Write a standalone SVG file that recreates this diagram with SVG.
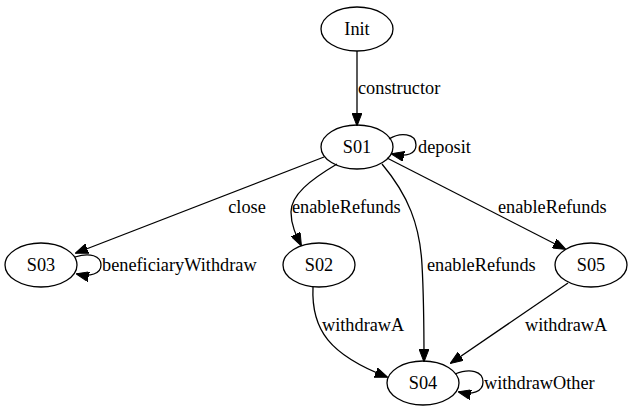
<svg xmlns="http://www.w3.org/2000/svg" width="635" height="413" viewBox="0 0 635 413">
<style>
.n ellipse{fill:none;stroke:#000;stroke-width:1.3}
text{font-family:"Liberation Serif","Times New Roman",serif;font-size:18.3px;fill:#000}
.n text{text-anchor:middle}
.e path{fill:none;stroke:#000;stroke-width:1.3;marker-end:url(#ah)}
</style>
<defs>
<marker id="ah" viewBox="0 0 13 10" refX="12" refY="5" markerWidth="13" markerHeight="10" markerUnits="userSpaceOnUse" orient="auto">
<path d="M0,0 L13,5 L0,10 z" fill="#000" stroke="#000" stroke-width="1"/>
</marker>
</defs>
<rect width="635" height="413" fill="#fff"/>
<g id="edges" class="e">
<path d="M357,51 L357,125"/>
<text x="358" y="94">constructor</text>
<path d="M389,139 C400,132 416,133 416,145 C416,154 407,157 392,154"/>
<text x="418" y="153">deposit</text>
<path d="M324,157 L76,253"/>
<text x="247" y="213" text-anchor="middle">close</text>
<path d="M337,164 C310,180 291,195 291,212 C291,225 296,235 301,245"/>
<text x="292" y="213">enableRefunds</text>
<path d="M382,164 C408,195 420,225 422,265 C424,300 424,335 424,361"/>
<text x="427" y="271">enableRefunds</text>
<path d="M387,158 L565,249"/>
<text x="498" y="213">enableRefunds</text>
<path d="M313,287 C311,330 330,355 387,377"/>
<text x="322" y="331">withdrawA</text>
<path d="M568,283 L451,363"/>
<text x="525" y="331">withdrawA</text>
<path d="M455,374 C470,368 483,371 483,382 C483,392 472,395 459,392"/>
<text x="484" y="389">withdrawOther</text>
<path d="M75,257 C90,252 101,256 101,265 C101,274 90,277 77,274"/>
<text x="102" y="271">beneficiaryWithdraw</text>
</g>
<g id="Init" class="n"><ellipse cx="357" cy="29" rx="36" ry="22"/><text x="357" y="35">Init</text></g>
<g id="S01" class="n"><ellipse cx="357" cy="147" rx="36" ry="22"/><text x="357" y="153">S01</text></g>
<g id="S03" class="n"><ellipse cx="41" cy="265" rx="36" ry="22"/><text x="41" y="271">S03</text></g>
<g id="S02" class="n"><ellipse cx="319" cy="265" rx="36" ry="22"/><text x="319" y="271">S02</text></g>
<g id="S05" class="n"><ellipse cx="591" cy="265" rx="36" ry="22"/><text x="591" y="271">S05</text></g>
<g id="S04" class="n"><ellipse cx="423" cy="383" rx="36" ry="22"/><text x="423" y="389">S04</text></g>
</svg>
